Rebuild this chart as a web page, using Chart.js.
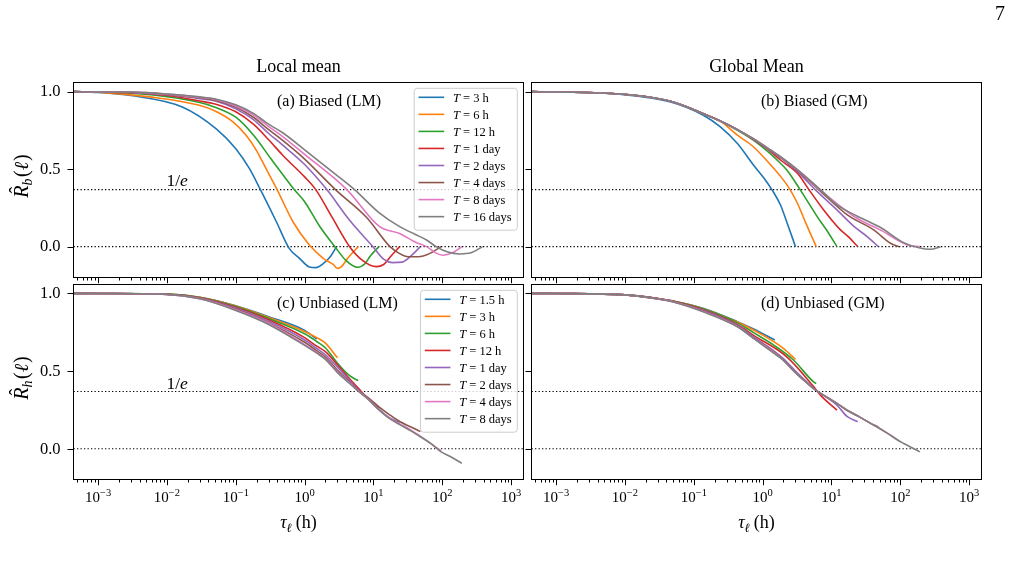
<!DOCTYPE html>
<html>
<head>
<meta charset="utf-8">
<script src="https://cdn.jsdelivr.net/npm/chart.js@4.4.1/dist/chart.umd.min.js"></script>
<style>
  body { margin: 0; background: #fff; }
  #wrap { position: relative; width: 1011px; height: 571px; }
  canvas { position: absolute; left: 0; top: 0; }
</style>
</head>
<body>
<div id="wrap">
  <canvas id="pa" width="1011" height="571"></canvas>
  <canvas id="pb" width="1011" height="571"></canvas>
  <canvas id="pc" width="1011" height="571"></canvas>
  <canvas id="pd" width="1011" height="571"></canvas>
</div>
<script>
const W = 1011, H = 571
const SERIF = '"Liberation Serif", "DejaVu Serif", serif'

// axis setup
const X_MIN = 4.39e-4
const X_MAX = 1510
const xMajor = [1e-3, 1e-2, 1e-1, 1, 10, 100, 1000]
const xExp = ['\u22123', '\u22122', '\u22121', '0', '1', '2', '3']
const yMajor = [0, 0.5, 1]
const yLabels = ['0.0', '0.5', '1.0']
const refLevels = [0, 1 / Math.E]

const colors = ['#1f77b4', '#ff7f0e', '#2ca02c', '#d62728', '#9467bd', '#8c564b', '#e377c2', '#7f7f7f']
const namesTop = ['3 h', '6 h', '12 h', '1 day', '2 days', '4 days', '8 days', '16 days']
const namesBottom = ['1.5 h', '3 h', '6 h', '12 h', '1 day', '2 days', '4 days', '8 days']

// [tau (h), R]
const biasedLM = [
  [[4.4e-4, 1], [0.001, 0.995], [0.003, 0.975], [0.017, 0.9], [0.052, 0.76], [0.1, 0.632], [0.158, 0.503], [0.224, 0.374], [0.39, 0.159], [0.6, -0.013], [0.85, -0.077], [1.17, -0.131], [1.45, -0.135], [1.86, -0.11], [2.4, -0.06], [2.9, 0]],
  [[4.4e-4, 1], [0.001, 0.997], [0.0056, 0.966], [0.0295, 0.912], [0.05, 0.875], [0.091, 0.805], [0.14, 0.72], [0.2, 0.62], [0.275, 0.503], [0.39, 0.376], [0.68, 0.159], [1.17, 0.01], [1.86, -0.075], [2.6, -0.115], [3.0, -0.14], [3.4, -0.13], [4.3, -0.07], [6, 0]],
  [[4.4e-4, 1], [0.001, 0.998], [0.003, 0.99], [0.01, 0.968], [0.03, 0.93], [0.05, 0.9], [0.1, 0.835], [0.18, 0.72], [0.32, 0.57], [0.48, 0.465], [0.7, 0.37], [1, 0.29], [1.66, 0.13], [2.75, 0], [4, -0.09], [5.9, -0.133], [7.5, -0.11], [9, -0.06], [12, 0]],
  [[4.4e-4, 1], [0.001, 0.998], [0.003, 0.993], [0.01, 0.975], [0.03, 0.94], [0.05, 0.92], [0.1, 0.87], [0.18, 0.79], [0.3, 0.69], [0.48, 0.59], [1, 0.45], [1.45, 0.368], [2.5, 0.19], [4.5, 0], [7, -0.09], [11, -0.129], [14, -0.115], [18, -0.06], [24, 0]],
  [[4.4e-4, 1], [0.001, 0.998], [0.003, 0.995], [0.01, 0.98], [0.03, 0.955], [0.05, 0.94], [0.1, 0.89], [0.18, 0.82], [0.3, 0.73], [0.48, 0.655], [1, 0.53], [2.1, 0.368], [4.5, 0.17], [9.8, 0], [14, -0.08], [19, -0.103], [26, -0.1], [35, -0.06], [48, 0]],
  [[4.4e-4, 1], [0.001, 0.998], [0.003, 0.996], [0.01, 0.982], [0.03, 0.96], [0.05, 0.945], [0.1, 0.9], [0.18, 0.835], [0.3, 0.755], [0.48, 0.685], [1, 0.565], [2.8, 0.368], [7.9, 0.19], [17.4, 0], [24, -0.045], [32, -0.065], [45, -0.065], [65, -0.045], [96, 0]],
  [[4.4e-4, 1], [0.001, 0.998], [0.003, 0.997], [0.01, 0.984], [0.03, 0.963], [0.05, 0.95], [0.1, 0.907], [0.18, 0.85], [0.3, 0.775], [0.48, 0.71], [1, 0.595], [4.1, 0.368], [12.3, 0.129], [24, 0.085], [40, 0.03], [59, 0], [80, -0.04], [102, -0.055], [140, -0.04], [192, 0]],
  [[4.4e-4, 1], [0.001, 0.998], [0.003, 0.997], [0.01, 0.985], [0.03, 0.966], [0.05, 0.953], [0.1, 0.915], [0.18, 0.86], [0.3, 0.79], [0.48, 0.735], [1, 0.625], [2.4, 0.49], [5.3, 0.368], [12, 0.22], [24, 0.129], [40, 0.08], [59, 0.043], [81, 0], [120, -0.035], [178, -0.047], [260, -0.04], [384, 0]]
]

const biasedGM = [
  [[4.4e-4, 1], [0.001, 0.998], [0.0085, 0.983], [0.046, 0.934], [0.138, 0.848], [0.243, 0.772], [0.43, 0.665], [0.74, 0.525], [1.035, 0.445], [1.4, 0.36], [1.81, 0.27], [2.3, 0.145], [3, 0]],
  [[4.4e-4, 1], [0.001, 0.998], [0.0085, 0.985], [0.046, 0.938], [0.138, 0.858], [0.243, 0.81], [0.43, 0.719], [0.74, 0.643], [1.29, 0.53], [1.81, 0.455], [2.5, 0.368], [3.2, 0.28], [4.3, 0.145], [6, 0]],
  [[4.4e-4, 1], [0.001, 0.998], [0.0085, 0.985], [0.046, 0.938], [0.138, 0.858], [0.243, 0.81], [0.43, 0.75], [0.74, 0.686], [1.29, 0.6], [1.81, 0.538], [2.26, 0.493], [3.5, 0.368], [6.2, 0.194], [9, 0.09], [12, 0]],
  [[4.4e-4, 1], [0.001, 0.998], [0.0085, 0.985], [0.046, 0.938], [0.138, 0.858], [0.243, 0.81], [0.43, 0.755], [0.74, 0.69], [1.29, 0.615], [1.81, 0.559], [3.2, 0.473], [4.7, 0.368], [7.7, 0.237], [13.5, 0.108], [18, 0.06], [24, 0]],
  [[4.4e-4, 1], [0.001, 0.998], [0.0085, 0.985], [0.046, 0.938], [0.138, 0.858], [0.243, 0.81], [0.43, 0.755], [0.74, 0.692], [1.29, 0.62], [1.81, 0.575], [3.2, 0.484], [5.8, 0.368], [12, 0.237], [21.4, 0.129], [33, 0.065], [48, 0]],
  [[4.4e-4, 1], [0.001, 0.998], [0.0085, 0.985], [0.046, 0.938], [0.138, 0.858], [0.243, 0.81], [0.43, 0.755], [0.74, 0.695], [1.29, 0.622], [1.81, 0.578], [3.2, 0.49], [6.5, 0.368], [17, 0.205], [41, 0.108], [72, 0.022], [96, 0]],
  [[4.4e-4, 1], [0.001, 0.998], [0.0085, 0.985], [0.046, 0.938], [0.138, 0.858], [0.243, 0.81], [0.43, 0.755], [0.74, 0.695], [1.29, 0.625], [1.81, 0.58], [3.2, 0.495], [6.8, 0.368], [23.4, 0.183], [51, 0.108], [126, 0.011], [192, 0]],
  [[4.4e-4, 1], [0.001, 0.998], [0.0085, 0.985], [0.046, 0.938], [0.138, 0.858], [0.243, 0.81], [0.43, 0.755], [0.74, 0.695], [1.29, 0.625], [1.81, 0.58], [3.2, 0.497], [6.9, 0.368], [12, 0.269], [23.4, 0.198], [51, 0.125], [112, 0.026], [180, -0.005], [275, -0.017], [384, 0]]
]

const unbiasedLM = [
  [[4.4e-4, 1], [0.001, 0.999], [0.01, 0.995], [0.03, 0.975], [0.1, 0.92], [0.3, 0.85], [1, 0.762], [1.5, 0.705]],
  [[4.4e-4, 1], [0.001, 0.999], [0.01, 0.995], [0.03, 0.974], [0.1, 0.918], [0.3, 0.845], [1, 0.755], [1.5, 0.715], [2, 0.68], [3, 0.585]],
  [[4.4e-4, 1], [0.001, 0.999], [0.01, 0.995], [0.03, 0.973], [0.1, 0.915], [0.3, 0.838], [1, 0.74], [1.5, 0.69], [2, 0.65], [3, 0.55], [4.5, 0.47], [6, 0.438]],
  [[4.4e-4, 1], [0.001, 0.999], [0.01, 0.994], [0.03, 0.972], [0.1, 0.91], [0.3, 0.83], [1, 0.715], [1.5, 0.66], [2, 0.625], [3, 0.54], [4.5, 0.45], [6, 0.39], [8, 0.33], [12, 0.26]],
  [[4.4e-4, 1], [0.001, 0.999], [0.01, 0.994], [0.03, 0.97], [0.1, 0.905], [0.3, 0.82], [1, 0.7], [1.5, 0.645], [2, 0.605], [3, 0.525], [4.5, 0.44], [6, 0.38], [8, 0.33], [12, 0.255], [17, 0.2], [24, 0.17]],
  [[4.4e-4, 1], [0.001, 0.999], [0.01, 0.993], [0.03, 0.968], [0.1, 0.9], [0.3, 0.81], [1, 0.685], [1.5, 0.63], [2, 0.59], [3, 0.505], [4.5, 0.43], [6, 0.375], [8, 0.335], [12, 0.27], [17, 0.22], [24, 0.175], [35, 0.14], [48, 0.11]],
  [[4.4e-4, 1], [0.001, 0.999], [0.01, 0.993], [0.03, 0.966], [0.1, 0.895], [0.3, 0.806], [1, 0.67], [1.5, 0.62], [2, 0.58], [3, 0.495], [4.5, 0.425], [6, 0.372], [8, 0.328], [12, 0.252], [17, 0.197], [24, 0.16], [35, 0.12], [48, 0.08], [70, 0.03], [96, -0.015]],
  [[4.4e-4, 1], [0.001, 0.999], [0.01, 0.993], [0.03, 0.965], [0.1, 0.89], [0.3, 0.8], [1, 0.665], [1.5, 0.615], [2, 0.575], [3, 0.49], [4.5, 0.42], [6, 0.37], [8, 0.325], [12, 0.25], [17, 0.195], [24, 0.155], [35, 0.115], [48, 0.077], [70, 0.03], [96, -0.02], [130, -0.05], [192, -0.094]]
]

const unbiasedGM = [
  [[4.4e-4, 1], [0.001, 0.999], [0.01, 0.99], [0.03, 0.967], [0.05, 0.95], [0.14, 0.903], [0.43, 0.818], [0.74, 0.77], [1.5, 0.7]],
  [[4.4e-4, 1], [0.001, 0.999], [0.01, 0.99], [0.03, 0.967], [0.05, 0.95], [0.14, 0.9], [0.43, 0.815], [0.74, 0.764], [1.45, 0.689], [2, 0.646], [3, 0.575]],
  [[4.4e-4, 1], [0.001, 0.999], [0.01, 0.99], [0.03, 0.966], [0.05, 0.95], [0.14, 0.897], [0.43, 0.81], [0.74, 0.747], [1.45, 0.667], [2.8, 0.571], [5.5, 0.43], [6, 0.42]],
  [[4.4e-4, 1], [0.001, 0.999], [0.01, 0.99], [0.03, 0.966], [0.05, 0.949], [0.14, 0.893], [0.43, 0.8], [0.74, 0.73], [2.26, 0.59], [5.5, 0.4], [6.9, 0.345], [12, 0.249]],
  [[4.4e-4, 1], [0.001, 0.999], [0.01, 0.99], [0.03, 0.965], [0.05, 0.948], [0.14, 0.89], [0.43, 0.795], [0.74, 0.72], [1.5, 0.625], [2, 0.58], [3, 0.5], [4.5, 0.425], [6, 0.375], [7, 0.355], [12, 0.28], [17, 0.206], [24, 0.174]],
  [[4.4e-4, 1], [0.001, 0.999], [0.01, 0.99], [0.03, 0.965], [0.05, 0.947], [0.14, 0.885], [0.43, 0.79], [0.74, 0.712], [1.5, 0.62], [2, 0.57], [3, 0.49], [4.5, 0.42], [6, 0.375], [7, 0.356], [12, 0.292], [17, 0.248], [24, 0.213], [37, 0.163], [48, 0.14]],
  [[4.4e-4, 1], [0.001, 0.999], [0.01, 0.99], [0.03, 0.964], [0.05, 0.946], [0.14, 0.882], [0.43, 0.787], [0.74, 0.71], [1.5, 0.615], [2, 0.57], [3, 0.49], [4.5, 0.42], [6, 0.375], [7, 0.356], [12, 0.292], [17, 0.245], [24, 0.21], [37, 0.163], [48, 0.135], [65, 0.1], [96, 0.05]],
  [[4.4e-4, 1], [0.001, 0.999], [0.01, 0.99], [0.03, 0.964], [0.05, 0.945], [0.14, 0.88], [0.43, 0.785], [0.74, 0.71], [1.5, 0.61], [2, 0.57], [3, 0.49], [4.5, 0.42], [6, 0.375], [7, 0.356], [12, 0.292], [17, 0.245], [24, 0.21], [37, 0.163], [48, 0.135], [65, 0.099], [96, 0.05], [112, 0.034], [150, 0.005], [192, -0.02]]
]

// minor ticks of the log axis
const xMinor = []
for (let e = -4; e <= 2; e++) {
  for (let k = 2; k <= 9; k++) {
    const v = k * Math.pow(10, e)
    if (v > X_MIN && v < X_MAX) xMinor.push(v)
  }
}

const panels = [
  { id: 'pa', series: biasedLM, names: namesTop, area: [73.5, 82.5, 523.5, 277.5], yr: [-0.199, 1.059],
    tag: '(a) Biased (LM)', tagX: 277, tagY: 106, title: 'Local mean', ylab: 'b', invE: 186, legend: true, xlab: false, ylabels: true, yLabY: 176 },
  { id: 'pb', series: biasedGM, names: namesTop, area: [531.5, 82.5, 981.5, 277.5], yr: [-0.199, 1.059],
    tag: '(b) Biased (GM)', tagX: 761, tagY: 106, title: 'Global Mean', legend: false, xlab: false, ylabels: false },
  { id: 'pc', series: unbiasedLM, names: namesBottom, area: [73.5, 284.5, 523.5, 479.5], yr: [-0.198, 1.057],
    tag: '(c) Unbiased (LM)', tagX: 277, tagY: 308, ylab: 'h', invE: 389, legend: true, xlab: true, ylabels: true, yLabY: 378 },
  { id: 'pd', series: unbiasedGM, names: namesBottom, area: [531.5, 284.5, 981.5, 479.5], yr: [-0.198, 1.057],
    tag: '(d) Unbiased (GM)', tagX: 761, tagY: 308, legend: false, xlab: true, ylabels: false }
]

function runFont(r, size) {
  const s = (r.sub || r.sup) ? size * 0.7 : size
  return (r.italic ? 'italic ' : '') + s + 'px ' + SERIF
}

// text made of runs: plain, italic, sub, sup
function drawRuns(ctx, runs, x, y, size, align) {
  const widths = runs.map(r => { ctx.font = runFont(r, size); return ctx.measureText(r.t).width + (r.gap || 0) })
  const total = widths.reduce((s, w) => s + w, 0)
  let cx = align === 'center' ? x - total / 2 : align === 'right' ? x - total : x
  ctx.textAlign = 'left'
  runs.forEach((r, i) => {
    ctx.font = runFont(r, size)
    const dy = r.sub ? size * 0.22 : r.sup ? -size * 0.42 : 0
    ctx.fillText(r.t, cx, y + dy)
    if (r.hat) {
      const w = ctx.measureText(r.t).width
      ctx.font = size + 'px ' + SERIF
      ctx.textAlign = 'center'
      ctx.fillText('\u02C6', cx + w * 0.62, y - size * 0.2)
      ctx.textAlign = 'left'
    }
    cx += widths[i]
  })
  return total
}

function makeDecor(p) {
  return {
    id: 'decor_' + p.id,
    afterDraw(chart) {
      const ctx = chart.ctx, a = chart.chartArea
      const xs = chart.scales.x, ys = chart.scales.y
      ctx.save()
      ctx.strokeStyle = '#000'
      ctx.fillStyle = '#000'
      ctx.lineWidth = 1
      ctx.textBaseline = 'alphabetic'

      // frame
      ctx.strokeRect(a.left, a.top, a.right - a.left, a.bottom - a.top)

      // x ticks
      ctx.beginPath()
      xMinor.forEach(v => {
        const px = Math.round(xs.getPixelForValue(v)) + 0.5
        ctx.moveTo(px, a.bottom); ctx.lineTo(px, a.bottom + 3)
      })
      xMajor.forEach(v => {
        const px = Math.round(xs.getPixelForValue(v)) + 0.5
        ctx.moveTo(px, a.bottom); ctx.lineTo(px, a.bottom + 5.7)
      })
      // y ticks
      yMajor.forEach(v => {
        const py = Math.round(ys.getPixelForValue(v)) + 0.5
        ctx.moveTo(a.left, py); ctx.lineTo(a.left - 6, py)
      })
      ctx.stroke()

      // y tick labels
      if (p.ylabels) {
        ctx.font = '16.5px ' + SERIF
        ctx.textAlign = 'right'
        ctx.textBaseline = 'middle'
        yMajor.forEach((v, i) => ctx.fillText(yLabels[i], a.left - 13, ys.getPixelForValue(v) + 0.5))
        ctx.textBaseline = 'alphabetic'
      }

      // x tick labels and title
      if (p.xlab) {
        xMajor.forEach((v, i) => {
          drawRuns(ctx, [{ t: '10' }, { t: xExp[i], sup: true }], xs.getPixelForValue(v), 502, 15, 'center')
        })
        drawRuns(ctx, [{ t: '\u03C4', italic: true }, { t: '\u2113', italic: true, sub: true, gap: 4 }, { t: '(h)' }],
          (a.left + a.right) / 2, 528, 18, 'center')
      }

      // column title
      if (p.title) {
        ctx.font = '18px ' + SERIF
        ctx.textAlign = 'center'
        ctx.fillText(p.title, (a.left + a.right) / 2, 71.5)
      }

      // y title, rotated
      if (p.ylab) {
        ctx.save()
        ctx.translate(28, p.yLabY)
        ctx.rotate(-Math.PI / 2)
        drawRuns(ctx, [{ t: 'R', italic: true, hat: true }, { t: p.ylab, italic: true, sub: true, gap: 1.5 },
          { t: '(' }, { t: '\u2113', italic: true, gap: 1 }, { t: ')' }], 0, 0, 20, 'center')
        ctx.restore()
      }

      // panel tag
      ctx.font = '16px ' + SERIF
      ctx.textAlign = 'left'
      ctx.fillText(p.tag, p.tagX, p.tagY)

      // 1/e marker
      if (p.invE) {
        drawRuns(ctx, [{ t: '1/' }, { t: 'e', italic: true }], 166.5, p.invE, 17.5, 'left')
      }

      // legend
      if (p.legend) {
        const sets = chart.data.datasets.filter(d => !d.isRef)
        const fs = 12.5
        let maxW = 0
        sets.forEach(d => {
          ctx.font = 'italic ' + fs + 'px ' + SERIF
          let w = ctx.measureText('T').width
          ctx.font = fs + 'px ' + SERIF
          w += ctx.measureText(' = ' + d.label).width
          maxW = Math.max(maxW, w)
        })
        const right = a.right - 6.2
        const top = a.top + 5.8
        const textX = right - 5.6 - maxW
        const lineX0 = textX - 34.4, lineX1 = textX - 8.7
        const left = lineX0 - 4.3
        const step = 17.05
        const bottom = top + 9 + step * sets.length - 3.5
        ctx.beginPath()
        ctx.roundRect(left, top, right - left, bottom - top, 3)
        ctx.fillStyle = 'rgba(255,255,255,0.8)'
        ctx.fill()
        ctx.strokeStyle = '#cccccc'
        ctx.stroke()
        sets.forEach((d, i) => {
          const y = top + 9 + step * i
          ctx.strokeStyle = d.borderColor
          ctx.lineWidth = 1.6
          ctx.beginPath()
          ctx.moveTo(lineX0, y); ctx.lineTo(lineX1, y)
          ctx.stroke()
          ctx.fillStyle = '#000'
          drawRuns(ctx, [{ t: 'T', italic: true }, { t: ' = ' + d.label }], textX, y + 4.3, fs, 'left')
        })
      }

      // page number
      if (p.id === 'pa') {
        ctx.fillStyle = '#000'
        ctx.font = '20px ' + SERIF
        ctx.textAlign = 'left'
        ctx.fillText('7', 995, 19.5)
      }
      ctx.restore()
    }
  }
}

panels.forEach(p => {
  const refSets = refLevels.map(lvl => ({
    isRef: true,
    data: [{ x: X_MIN, y: lvl }, { x: X_MAX, y: lvl }],
    borderColor: '#000',
    borderWidth: 1.1,
    borderDash: [1.3, 2.2],
    pointRadius: 0,
    order: 100
  }))
  const lineSets = p.series.map((pts, i) => ({
    label: p.names[i],
    data: pts.map(([x, y]) => ({ x, y })),
    borderColor: colors[i],
    borderWidth: 1.6,
    pointRadius: 0,
    fill: false,
    cubicInterpolationMode: 'monotone',
    order: 20 - i
  }))
  const a = p.area
  new Chart(document.getElementById(p.id), {
    type: 'line',
    data: { datasets: refSets.concat(lineSets) },
    options: {
      responsive: false,
      animation: false,
      devicePixelRatio: 1,
      layout: { padding: { left: a[0], top: a[1], right: W - a[2], bottom: H - a[3] } },
      plugins: { legend: { display: false }, tooltip: { enabled: false } },
      scales: {
        x: { type: 'logarithmic', min: X_MIN, max: X_MAX, display: false },
        y: { type: 'linear', min: p.yr[0], max: p.yr[1], display: false }
      }
    },
    plugins: [makeDecor(p)]
  })
})
</script>
</body>
</html>
